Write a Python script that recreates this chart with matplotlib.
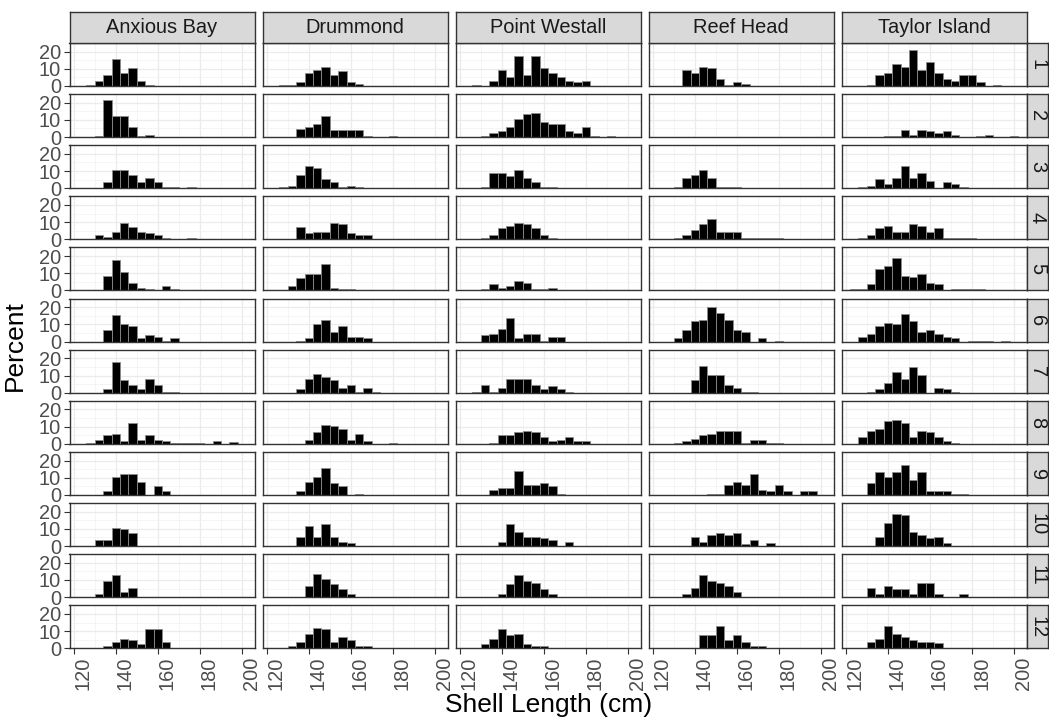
import matplotlib
matplotlib.use("Agg")
import matplotlib.pyplot as plt

plt.rcParams["font.family"] = ["Liberation Sans", "DejaVu Sans"]

# bin centres (bin width 4) and percent per bin, one list per month (rows 1..12)
bin_centres = [124, 128, 132, 136, 140, 144, 148, 152, 156, 160,
               164, 168, 172, 176, 180, 184, 188, 192, 196, 200]
months = ["1", "2", "3", "4", "5", "6", "7", "8", "9", "10", "11", "12"]
sites = ["Anxious Bay", "Drummond", "Point Westall", "Reef Head", "Taylor Island"]

anxious_bay = [
    [0, 0.6, 2.7, 6.2, 15.6, 7.4, 10.5, 2.7, 0.6, 0, 0, 0, 0, 0, 0, 0, 0, 0, 0, 0],
    [0, 0, 0.6, 21.6, 12.3, 12.3, 6.0, 0.6, 1.2, 0, 0, 0, 0, 0, 0, 0, 0, 0, 0, 0],
    [0, 0, 0, 3.7, 10.5, 10.5, 7.6, 3.7, 6.2, 3.7, 0.6, 0.6, 0, 0.6, 0, 0, 0, 0, 0, 0],
    [0, 0, 2.5, 1.4, 4.5, 9.4, 7.0, 4.5, 3.7, 2.5, 0.6, 0, 0, 0.6, 0, 0, 0, 0, 0, 0],
    [0, 0, 0, 8.6, 17.5, 10.5, 4.3, 1.2, 0.6, 0, 2.7, 0.8, 0, 0, 0, 0, 0, 0, 0, 0],
    [0, 0, 0, 7.0, 15.2, 10.3, 9.0, 2.1, 3.9, 2.7, 0.6, 2.1, 0, 0, 0, 0, 0, 0, 0, 0],
    [0, 0, 0, 2.1, 18.1, 7.2, 4.7, 2.1, 7.8, 4.5, 0.6, 0.6, 0, 0, 0, 0, 0, 0, 0, 0],
    [0, 0.6, 2.5, 5.1, 5.8, 1.9, 12.1, 2.5, 5.3, 2.5, 1.8, 0.6, 0.6, 0.6, 0.6, 0, 1.8, 0, 0.8, 0],
    [0, 0, 0, 2.1, 10.7, 12.1, 12.1, 7.8, 0, 5.3, 2.1, 0, 0, 0, 0, 0, 0, 0, 0, 0],
    [0, 0, 3.5, 3.5, 10.3, 9.7, 7.8, 0, 0, 0, 0, 0, 0, 0, 0, 0, 0, 0, 0, 0],
    [0, 0, 1.8, 9.6, 12.9, 3.3, 5.1, 0, 0, 0, 0, 0, 0, 0, 0, 0, 0, 0, 0, 0],
    [0, 0, 0, 1.6, 3.5, 5.5, 4.7, 2.7, 11.1, 11.1, 3.5, 0, 0, 0, 0, 0, 0, 0, 0, 0],
]

drummond = [
    [0, 0.6, 0.6, 2.5, 7.4, 9.0, 11.3, 6.2, 8.8, 2.5, 1.4, 0, 0, 0, 0, 0, 0, 0, 0, 0],
    [0, 0, 0, 4.5, 6.0, 7.4, 12.5, 4.1, 4.1, 4.1, 4.1, 0.6, 0, 0, 0.6, 0, 0, 0, 0, 0],
    [0, 0.6, 1.4, 7.4, 12.7, 11.7, 5.5, 3.7, 0.6, 1.2, 0.6, 0, 0, 0, 0, 0, 0, 0, 0, 0],
    [0, 0, 0, 7.0, 3.7, 4.5, 4.5, 9.6, 8.8, 3.7, 2.5, 2.5, 0, 0, 0, 0, 0, 0, 0, 0],
    [0, 0, 2.7, 7.0, 9.6, 9.6, 15.6, 1.4, 0.6, 0.6, 0, 0, 0, 0, 0, 0, 0, 0, 0, 0],
    [0, 0, 0, 0.6, 1.9, 10.3, 12.7, 5.8, 8.8, 2.7, 2.7, 1.9, 0, 0, 0, 0, 0, 0, 0, 0],
    [0, 0, 0, 2.3, 7.8, 10.7, 9.0, 7.2, 2.7, 4.7, 0.6, 2.9, 0.6, 0, 0, 0, 0, 0, 0, 0],
    [0, 0, 0, 0, 2.5, 6.8, 10.7, 10.3, 8.8, 2.5, 5.8, 1.9, 0, 0, 0.6, 0, 0, 0, 0, 0],
    [0, 0, 0, 2.3, 7.8, 10.7, 15.8, 7.2, 5.3, 0, 0.6, 0, 0, 0, 0, 0, 0, 0, 0, 0],
    [0, 0, 0, 5.3, 11.7, 5.5, 12.7, 5.5, 2.3, 1.6, 0, 0, 0, 0, 0, 0, 0, 0, 0, 0],
    [0, 0, 0, 0, 6.6, 13.5, 10.3, 7.8, 4.5, 2.1, 0, 0, 0, 0, 0, 0, 0, 0, 0, 0],
    [0, 0, 1.6, 3.5, 8.4, 11.7, 11.1, 3.5, 6.6, 4.7, 1.6, 1.6, 0, 0, 0, 0, 0, 0, 0, 0],
]

point_westall = [
    [0, 0.6, 0, 3.1, 9.4, 5.5, 17.5, 6.2, 17.5, 10.5, 7.4, 5.5, 3.1, 2.5, 3.1, 0, 0, 0, 0, 0],
    [0, 0, 0.6, 2.3, 3.7, 6.0, 10.5, 13.5, 14.2, 8.8, 7.4, 7.4, 3.7, 2.3, 5.7, 0.6, 0, 0.6, 0, 0],
    [0, 0, 0.6, 8.8, 8.8, 7.2, 10.7, 5.7, 3.7, 0.6, 0.6, 0, 0, 0, 0, 0, 0, 0, 0, 0],
    [0, 0, 0.6, 2.5, 6.8, 7.6, 9.4, 8.8, 6.8, 2.5, 0.6, 0, 0, 0, 0, 0, 0, 0, 0, 0],
    [0, 0, 0.6, 3.9, 1.2, 2.7, 5.5, 4.3, 0.6, 0.6, 1.4, 0, 0, 0, 0, 0, 0, 0, 0, 0],
    [0, 0, 3.9, 4.5, 7.6, 13.8, 2.1, 4.5, 4.5, 0.6, 2.5, 2.5, 0, 0, 0, 0, 0, 0, 0, 0],
    [0, 0.6, 4.7, 0.6, 2.7, 7.8, 7.8, 7.8, 4.5, 2.1, 3.9, 2.1, 0.6, 0, 0, 0, 0, 0, 0, 0],
    [0, 0, 0, 0.6, 5.1, 5.1, 7.0, 7.6, 7.0, 3.9, 1.9, 2.5, 3.9, 1.9, 1.9, 0, 0, 0, 0, 0],
    [0, 0, 0, 2.7, 3.9, 3.9, 14.0, 5.8, 5.8, 7.2, 5.1, 0.6, 0, 0, 0, 0, 0, 0, 0, 0],
    [0, 0, 0, 0, 2.3, 12.9, 8.4, 5.3, 5.3, 4.7, 3.5, 0, 2.1, 0, 0, 0, 0, 0, 0, 0],
    [0, 0, 0, 0, 2.1, 7.8, 12.9, 9.7, 8.4, 4.5, 1.6, 0, 0, 0, 0, 0, 0, 0, 0, 0],
    [0, 0, 2.7, 5.3, 11.1, 7.8, 8.4, 2.7, 1.6, 1.6, 0, 0, 0, 0, 0, 0, 0, 0, 0, 0],
]

reef_head = [
    [0, 0, 0, 9.4, 7.4, 11.3, 10.5, 4.3, 0.6, 2.5, 1.2, 0, 0, 0, 0, 0, 0, 0, 0, 0],
    [0, 0, 0, 0, 0, 0, 0, 0, 0, 0, 0, 0, 0, 0, 0, 0, 0, 0, 0, 0],
    [0, 0, 0.6, 5.7, 7.4, 10.5, 5.7, 0.6, 0.6, 0.6, 0, 0, 0, 0, 0, 0, 0, 0, 0, 0],
    [0, 0, 0.6, 2.5, 5.7, 8.8, 12.1, 4.3, 4.3, 4.3, 0.6, 0.6, 0.6, 0.6, 0.6, 0, 0, 0, 0, 0],
    [0, 0, 0, 0, 0, 0, 0, 0, 0, 0, 0, 0, 0, 0, 0, 0, 0, 0, 0, 0],
    [0, 0, 1.9, 7.0, 11.9, 12.5, 20.1, 16.8, 12.5, 7.0, 5.7, 0, 1.9, 0, 0.6, 0, 0, 0, 0, 0],
    [0, 0, 0, 0, 7.2, 15.4, 10.3, 10.3, 4.7, 2.9, 0.6, 0.6, 0, 0, 0, 0, 0, 0, 0, 0],
    [0, 0, 0.6, 1.9, 2.7, 5.1, 5.8, 7.6, 7.6, 7.6, 0.6, 2.5, 2.5, 0.6, 0.6, 0, 0, 0, 0, 0],
    [0, 0, 0, 0, 0, 0, 0.6, 0.6, 5.8, 7.8, 5.8, 12.1, 2.7, 2.1, 5.8, 2.1, 0, 2.1, 2.1, 0],
    [0, 0, 0, 0, 5.3, 2.1, 6.4, 7.8, 6.4, 7.8, 1.0, 3.5, 0, 1.6, 0, 0, 0, 0, 0, 0],
    [0, 0, 0, 1.6, 5.1, 12.9, 9.7, 8.4, 6.6, 3.1, 0, 0, 0, 0, 0, 0, 0, 0, 0, 0],
    [0, 0, 0, 0, 0, 7.8, 7.8, 12.7, 4.7, 7.8, 3.5, 1.2, 1.2, 0, 0, 0, 0, 0, 0, 0],
]

taylor_island = [
    [0, 0, 0.6, 6.2, 7.4, 12.5, 11.3, 20.7, 9.4, 14.2, 7.4, 4.3, 3.1, 6.2, 6.2, 2.5, 0, 0.6, 0, 0],
    [0, 0, 0, 0, 0.6, 0.6, 4.1, 1.4, 4.1, 3.5, 2.1, 3.7, 1.2, 0, 0, 0.6, 1.2, 0, 0, 0.6],
    [0, 0.6, 1.2, 5.5, 2.5, 6.2, 12.7, 6.2, 8.8, 4.3, 0, 3.7, 2.5, 0.6, 0, 0, 0, 0, 0, 0],
    [0, 0.6, 2.5, 6.8, 7.6, 4.5, 4.5, 8.8, 7.6, 4.3, 6.8, 0.6, 0.6, 0.6, 0.6, 0, 0, 0, 0, 0],
    [0.6, 0.6, 3.7, 12.5, 14.0, 18.7, 8.6, 7.6, 9.6, 4.3, 3.7, 0, 0.6, 0.6, 0.6, 0.6, 0, 0, 0, 0],
    [0, 2.5, 4.5, 9.0, 10.9, 10.3, 15.8, 11.9, 5.7, 7.0, 4.5, 2.5, 1.9, 0, 0.6, 0.6, 0.6, 0, 0.6, 0],
    [0, 0, 0.6, 2.1, 5.8, 12.1, 7.8, 15.2, 10.1, 0, 2.7, 2.1, 0.6, 0, 0, 0, 0, 0, 0, 0],
    [0, 3.9, 7.6, 8.8, 13.3, 13.8, 11.9, 3.7, 7.6, 7.0, 3.7, 1.9, 0.6, 0, 0, 0, 0, 0, 0, 0],
    [0, 0, 7.0, 13.5, 10.7, 13.5, 17.2, 8.8, 13.5, 2.1, 2.1, 2.1, 0.6, 0.6, 0, 0, 0, 0, 0, 0],
    [0, 0, 0, 5.3, 13.5, 18.5, 17.9, 8.4, 6.4, 4.7, 5.3, 1.6, 0, 0, 0, 0, 0, 0, 0, 0],
    [0, 0, 5.1, 2.1, 6.4, 4.5, 4.5, 2.1, 8.4, 8.4, 2.1, 0, 0, 2.1, 0, 0, 0, 0, 0, 0],
    [0, 0, 3.5, 5.3, 12.7, 8.4, 6.6, 4.7, 3.5, 3.5, 2.9, 0, 0, 0, 0, 0, 0, 0, 0, 0],
]

site_data = [anxious_bay, drummond, point_westall, reef_head, taylor_island]

W, H = 1049, 727
fig = plt.figure(figsize=(W / 100, H / 100), dpi=100)
axes = fig.subplots(12, 5, sharex=True, sharey=True)
fig.subplots_adjust(left=69.5 / W, right=1026.7 / W, top=1 - 43 / H,
                    bottom=1 - 648.3 / H, wspace=0.043, hspace=0.19)

border = "#333333"
txt_grey = "#4D4D4D"

for r in range(12):
    for c in range(5):
        ax = axes[r, c]
        vals = site_data[c][r]
        ax.bar(bin_centres, vals, width=4, color="black",
               edgecolor="#8c8c8c", linewidth=0.6, zorder=2)
        ax.set_xlim(118, 206)
        ax.set_ylim(0, 25)
        ax.set_xticks([120, 140, 160, 180, 200])
        ax.set_xticks([130, 150, 170, 190], minor=True)
        ax.set_yticks([0, 10, 20])
        ax.set_yticks([5, 15, 25], minor=True)
        ax.grid(which="major", color="#EBEBEB", linewidth=0.9, zorder=0)
        ax.grid(which="minor", color="#F2F2F2", linewidth=0.5, zorder=0)
        ax.set_axisbelow(True)
        for sp in ax.spines.values():
            sp.set_color(border)
            sp.set_linewidth(1.0)
            sp.set_zorder(3)
        ax.tick_params(which="minor", length=0)
        ax.tick_params(which="major", length=4.5, width=0.8, color=border,
                       labelcolor=txt_grey, labelsize=14.4, pad=1.5)
        if r != 11:
            ax.tick_params(axis="x", which="major", length=0)
        if c != 0:
            ax.tick_params(axis="y", which="major", length=0)

for ax in axes[11, :]:
    for lab in ax.get_xticklabels():
        lab.set_rotation(90)
        lab.set_ha("left")
        lab.set_va("top")

# facet strips
strip_h = 31 / H
strip_w = 21.6 / W
for c, name in enumerate(sites):
    pos = axes[0, c].get_position()
    s = fig.add_axes([pos.x0, pos.y1, pos.width, strip_h])
    s.set_facecolor("#D9D9D9")
    s.set_xticks([])
    s.set_yticks([])
    for sp in s.spines.values():
        sp.set_color(border)
        sp.set_linewidth(1.0)
    s.text(0.5, 0.5, name, ha="center", va="center", fontsize=14.4,
           color="#1A1A1A", transform=s.transAxes)

for r, m in enumerate(months):
    pos = axes[r, 4].get_position()
    s = fig.add_axes([pos.x1, pos.y0, strip_w, pos.height])
    s.set_facecolor("#D9D9D9")
    s.set_xticks([])
    s.set_yticks([])
    for sp in s.spines.values():
        sp.set_color(border)
        sp.set_linewidth(1.0)
    s.text(0.5, 0.5, m, ha="center", va="center", fontsize=14.4,
           rotation=-90, color="#1A1A1A", transform=s.transAxes)

mid_x = (69.5 + 1026.7) / 2 / W
mid_y = 1 - (43 + 648.3) / 2 / H
fig.text(mid_x, 1 - 705 / H, "Shell Length (cm)", ha="center", va="center",
         fontsize=19, color="black")
fig.text(15 / W, mid_y, "Percent", ha="center", va="center", rotation=90,
         fontsize=19, color="black")

fig.savefig("out.png", dpi=100)
